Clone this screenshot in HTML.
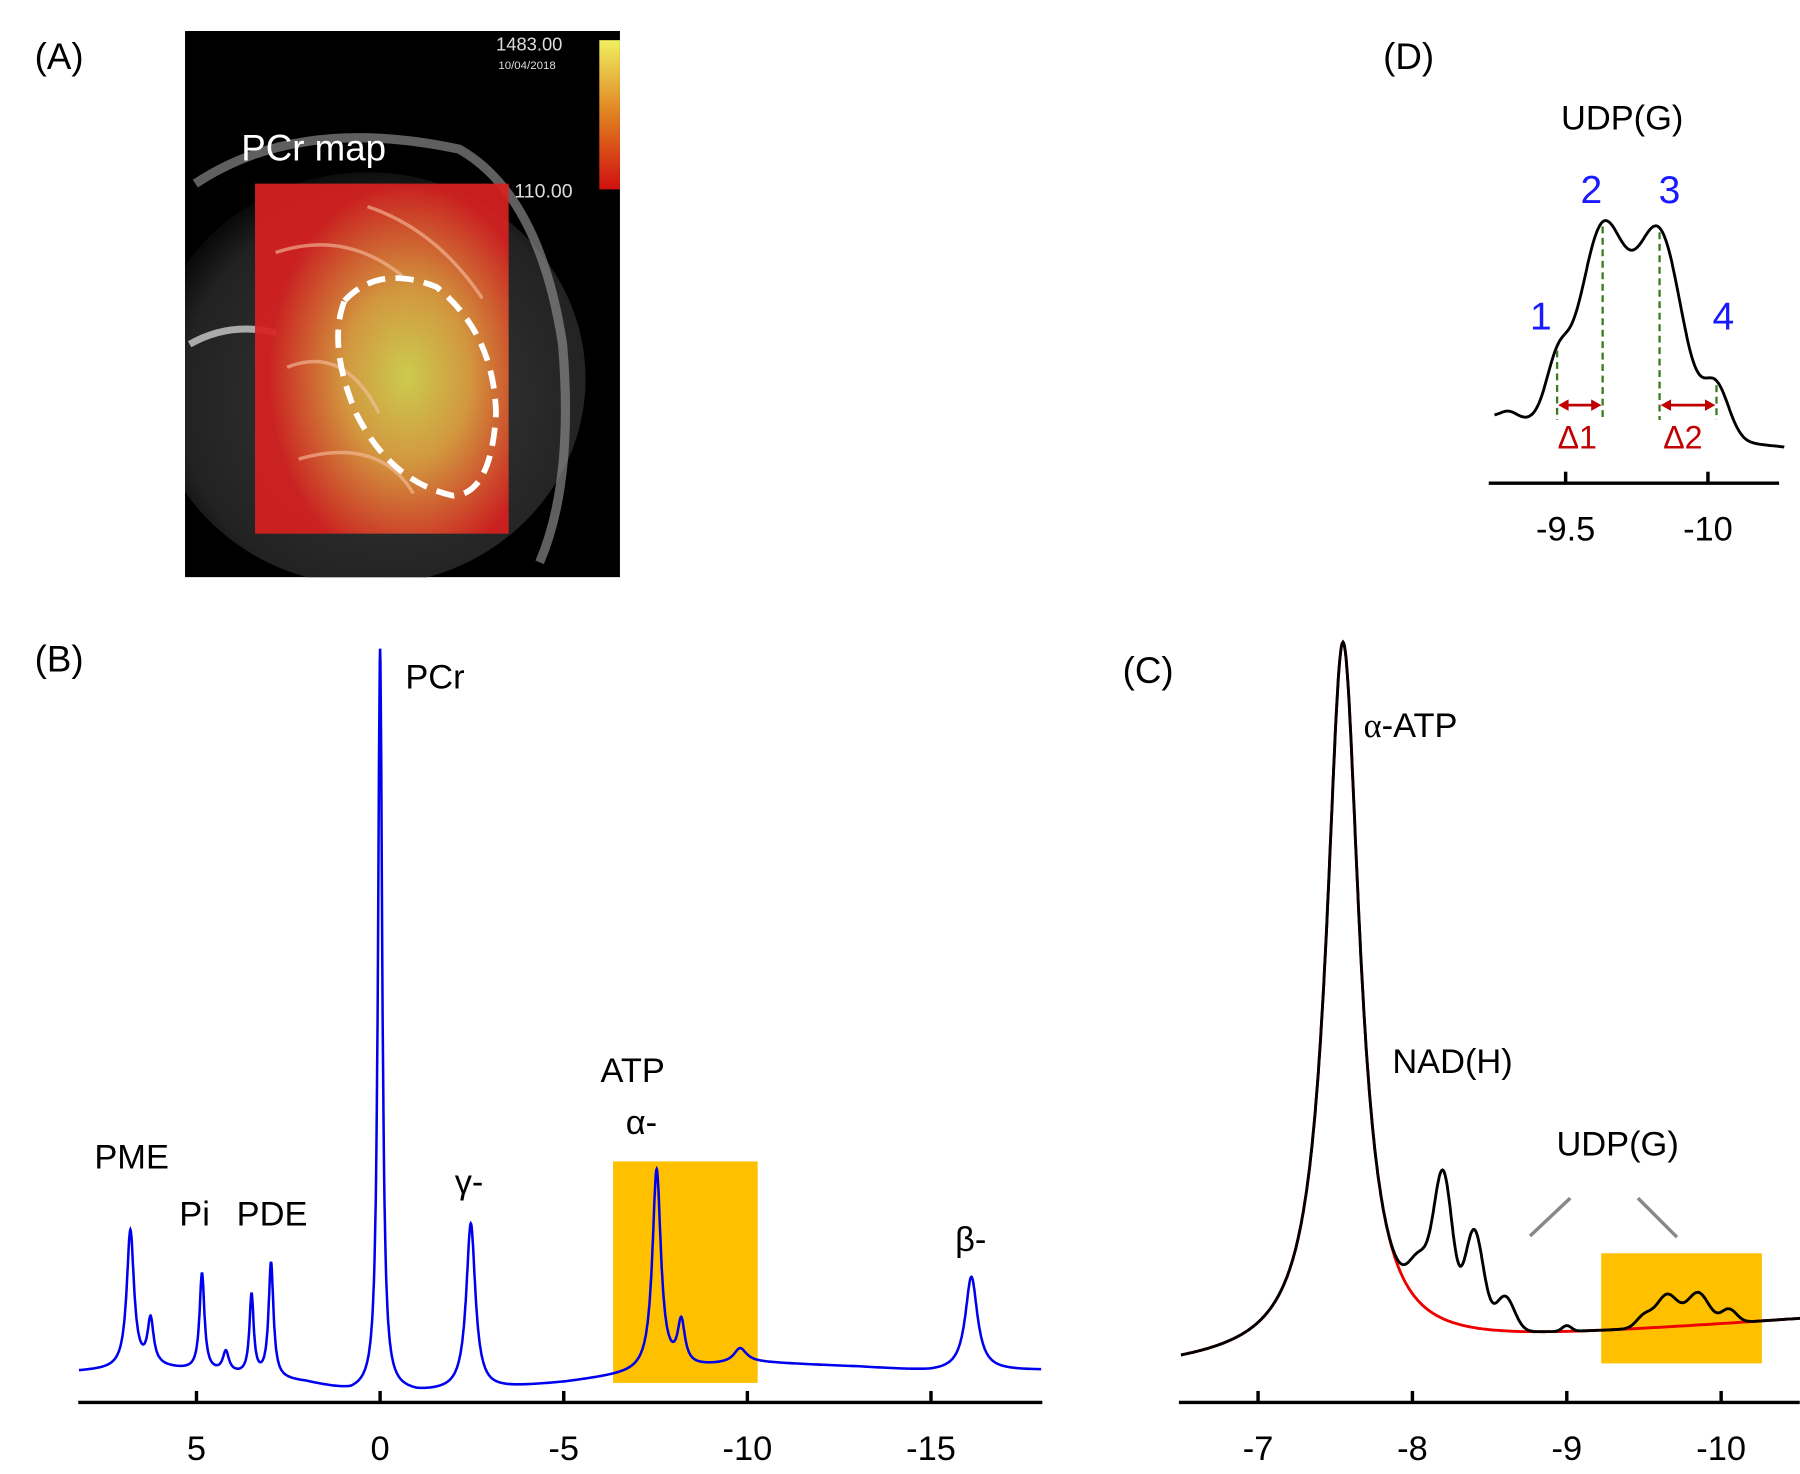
<!DOCTYPE html>
<html><head><meta charset="utf-8">
<style>
html,body{margin:0;padding:0;background:#fff;}
svg text{font-family:"Liberation Sans","DejaVu Sans",sans-serif;}
</style></head>
<body>
<svg id="fig" width="1800" height="1469" viewBox="0 0 1568 1280" xmlns="http://www.w3.org/2000/svg">
<defs>
<linearGradient id="cbar" x1="0" y1="0" x2="0" y2="1">
<stop offset="0" stop-color="#f0f060"/><stop offset="0.5" stop-color="#e08020"/><stop offset="1" stop-color="#d01010"/></linearGradient>
<radialGradient id="hot" cx="0.6" cy="0.55" r="0.55">
<stop offset="0" stop-color="#d8d850"/><stop offset="0.45" stop-color="#e0a040"/><stop offset="1" stop-color="#d82020"/></radialGradient>
<radialGradient id="brain" cx="0.55" cy="0.55" r="0.6">
<stop offset="0" stop-color="#3a3a3a"/><stop offset="0.8" stop-color="#222"/><stop offset="1" stop-color="#000"/></radialGradient>
<clipPath id="clipA"><rect x="161" y="27" width="379" height="476"/></clipPath>
</defs>

<!-- Panel A -->
<text x="30" y="60" font-size="32">(A)</text>
<g clip-path="url(#clipA)">
<rect x="161" y="27" width="379" height="476" fill="#000"/>
<ellipse cx="320" cy="330" rx="190" ry="180" fill="url(#brain)"/>
<path d="M170 160 Q260 100 400 130 Q470 170 490 300 Q500 420 470 490" fill="none" stroke="#888" stroke-width="8" opacity="0.7"/>
<path d="M165 300 Q200 280 240 290" fill="none" stroke="#aaa" stroke-width="6"/>
<rect x="222" y="160" width="221" height="305" fill="url(#hot)" opacity="0.92"/>
<path d="M240 220 Q300 200 350 240 M250 320 Q300 300 330 360 M260 400 Q330 380 360 430 M320 180 Q380 200 420 260" fill="none" stroke="#f6c0a0" stroke-width="3" opacity="0.6"/>
<path d="M300 262 Q330 230 380 250 Q430 290 432 360 Q428 430 395 432 Q340 420 310 360 Q285 300 300 262 Z" fill="none" stroke="#fff" stroke-width="5" stroke-dasharray="16 9"/>
<rect x="522" y="35" width="18" height="130" fill="url(#cbar)"/>
<text x="432" y="44" font-size="16" fill="#ddd">1483.00</text>
<text x="434" y="60" font-size="10" fill="#ddd">10/04/2018</text>
<text x="448" y="172" font-size="17" fill="#ddd">110.00</text>
</g>
<text x="210" y="140" font-size="32" fill="#fff">PCr map</text>

<!-- Panel B -->
<text x="30" y="585" font-size="32">(B)</text>
<rect x="534" y="1012" width="126" height="193" fill="#ffc000"/>
<g id="gB"></g>
<line x1="68" y1="1222" x2="908" y2="1222" stroke="#000" stroke-width="3"/>
<g id="ticksB"></g>
<g font-size="30">
<text x="82" y="1018">PME</text><text x="156" y="1068">Pi</text><text x="206" y="1068">PDE</text>
<text x="353" y="600">PCr</text><text x="396" y="1040" font-family="Liberation Serif,serif">γ-</text>
<text x="523" y="943">ATP</text><text x="545" y="988" font-family="Liberation Serif,serif">α-</text>
<text x="832" y="1090" font-family="Liberation Serif,serif">β-</text>
</g>

<!-- Panel C -->
<text x="978" y="595" font-size="32">(C)</text>
<rect x="1395" y="1092" width="140" height="96" fill="#ffc000"/>
<g id="gC"></g>
<line x1="1027" y1="1222" x2="1568" y2="1222" stroke="#000" stroke-width="3"/>
<g id="ticksC"></g>
<line x1="1333" y1="1077" x2="1368" y2="1044" stroke="#888" stroke-width="3"/>
<line x1="1427" y1="1044" x2="1461" y2="1078" stroke="#888" stroke-width="3"/>
<g font-size="30">
<text x="1188" y="642"><tspan font-family="Liberation Serif,serif">α</tspan>-ATP</text>
<text x="1213" y="935">NAD(H)</text>
<text x="1356" y="1007">UDP(G)</text>
</g>

<!-- Panel D -->
<text x="1205" y="60" font-size="32">(D)</text>
<text x="1360" y="113" font-size="30">UDP(G)</text>
<g id="gD"></g>
<line x1="1297" y1="421" x2="1550" y2="421" stroke="#000" stroke-width="3"/>
<g id="ticksD"></g>
<g font-size="34" fill="#1a1aff">
<text x="1333" y="287">1</text><text x="1377" y="177">2</text><text x="1445" y="177">3</text><text x="1492" y="287">4</text>
</g>
<g fill="#c00000" font-size="28">
<text x="1357" y="391">Δ1</text><text x="1449" y="391">Δ2</text>
</g>
</svg>
<script>
const NS='http://www.w3.org/2000/svg';
// Panel B data
const bTicks=[5,0,-5,-10,-15];
const bTickLabels=['5','0','-5','-10','-15'];
const bPeakPpm=[6.8,6.25,4.85,4.2,3.5,2.97,0,-2.47,-7.53,-8.2,-9.8,-16.1];
const bPeakAmp=[120,40,85,18,70,100,645,145,175,38,12,82];
const bPeakWidth=[0.12,0.1,0.08,0.1,0.07,0.08,0.07,0.15,0.14,0.12,0.2,0.2];
const bBasePpm=[8.2,6,4,2,0.8,0,-1,-3,-5,-7,-10,-13,-15,-18];
const bBaseVal=[0,3,-3,-10,-18,-16,-19,-16,-10,-2,8,4,0,1];
// Panel C data
const cTicks=[-7,-8,-9,-10];
const cTickLabels=['-7','-8','-9','-10'];
const cAtpPpm=-7.55, cAtpAmp=620, cAtpWidth=0.13;
const cExtraPpm=[-8.05,-8.2,-8.4,-8.6,-9.0,-9.5,-9.65,-9.85,-10.05];
const cExtraAmp=[40,125,85,30,5,10,28,28,12];
const cExtraWidth=[0.07,0.06,0.06,0.06,0.03,0.05,0.07,0.07,0.05];
// Panel D data
const dTicks=[-9.5,-10];
const dTickLabels=['-9.5','-10'];
const dPeakPpm=[-9.3,-9.47,-9.63,-9.83,-10.03];
const dPeakAmp=[6,44,172,172,44];
const dPeakWidth=[0.03,0.04,0.08,0.08,0.045];

function mk(tag,attrs,parent){const e=document.createElementNS(NS,tag);for(const k in attrs)e.setAttribute(k,attrs[k]);parent.appendChild(e);return e;}
function lor(x,c,a,g){return a*g*g/(g*g+(x-c)*(x-c));}
function gau(x,c,a,s){return a*Math.exp(-(x-c)*(x-c)/(2*s*s));}
function interp(x,xs,ys){for(let i=0;i<xs.length-1;i++){if(x<=xs[i]&&x>=xs[i+1]){const t=(x-xs[i])/(xs[i+1]-xs[i]);return ys[i]+t*(ys[i+1]-ys[i]);}}return ys[ys.length-1];}
function ticks(g,vals,labels,xf,y0,fs,name){vals.forEach((v,i)=>{const x=xf(v);
 const l=mk('line',{x1:x,y1:y0-10,x2:x,y2:y0,stroke:'#000','stroke-width':3},g);
 
 
 const t=mk('text',{x:x,y:y0+50,'font-size':fs,'text-anchor':'middle'},g);t.textContent=labels[i];
 
 });}

// B
const xB=p=>331-32*p, yB=v=>1195-v;
ticks(document.getElementById('ticksB'),bTicks,bTickLabels,xB,1222,30,'b');
let d='';for(let p=8.2;p>=-18;p-=0.01){let v=interp(p,bBasePpm,bBaseVal);for(let i=0;i<bPeakPpm.length;i++)v+=lor(p,bPeakPpm[i],bPeakAmp[i],bPeakWidth[i]);d+=(d?'L':'M')+xB(p).toFixed(1)+' '+yB(v).toFixed(1);}
const pb=mk('path',{d:d,fill:'none',stroke:'#0000ee','stroke-width':2.2},document.getElementById('gB'));



// C
const xC=p=>1096+(-7-p)*134.5;
const baseC=p=>1190-40*((-6.5-p)/4);
let dr='',dk='';for(let p=-6.5;p>=-10.52;p-=0.005){const r=baseC(p)-lor(p,cAtpPpm,cAtpAmp,cAtpWidth);let k=r;for(let i=0;i<cExtraPpm.length;i++)k-=gau(p,cExtraPpm[i],cExtraAmp[i],cExtraWidth[i]);const x=xC(p).toFixed(1);dr+=(dr?'L':'M')+x+' '+r.toFixed(1);dk+=(dk?'L':'M')+x+' '+k.toFixed(1);}
const gC=document.getElementById('gC');
const pr=mk('path',{d:dr,fill:'none',stroke:'#ee0000','stroke-width':2.5},gC);


const pk=mk('path',{d:dk,fill:'none',stroke:'#000','stroke-width':2.5},gC);


ticks(document.getElementById('ticksC'),cTicks,cTickLabels,xC,1222,30,'c');

// D
const xD=p=>1364-(p+9.5)*248;
const baseD=p=>363+26*((-9.25-p)/1.0);
const yDat=p=>{let y=baseD(p);for(let j=0;j<dPeakPpm.length;j++)y-=gau(p,dPeakPpm[j],dPeakAmp[j],dPeakWidth[j]);return y;};
const gD=document.getElementById('gD');
let dd='';for(let p=-9.25;p>=-10.27;p-=0.002){dd+=(dd?'L':'M')+xD(p).toFixed(1)+' '+yDat(p).toFixed(1);}
const pd=mk('path',{d:dd,fill:'none',stroke:'#000','stroke-width':2.5},gD);


const markIdx=[1,2,3,4];
markIdx.forEach((k,i)=>{const p=dPeakPpm[k];const y=yDat(p);
 const l=mk('line',{x1:xD(p),y1:y+4,x2:xD(p),y2:366,stroke:'#3a7a1a','stroke-width':2,'stroke-dasharray':'6 4'},gD);
 
 });
[[1,2],[3,4]].forEach((pr2,i)=>{const x1=xD(dPeakPpm[pr2[0]]),x2=xD(dPeakPpm[pr2[1]]);
 const g=mk('g',{},gD);
 
 
 mk('line',{x1:x1+6,y1:353,x2:x2-6,y2:353,stroke:'#c00000','stroke-width':2.5},g);
 mk('path',{d:`M${x1+1} 353 l9 -5 v10 z M${x2-1} 353 l-9 -5 v10 z`,fill:'#c00000'},g);});
ticks(document.getElementById('ticksD'),dTicks,dTickLabels,xD,421,30,'d');
</script>
</body></html>
